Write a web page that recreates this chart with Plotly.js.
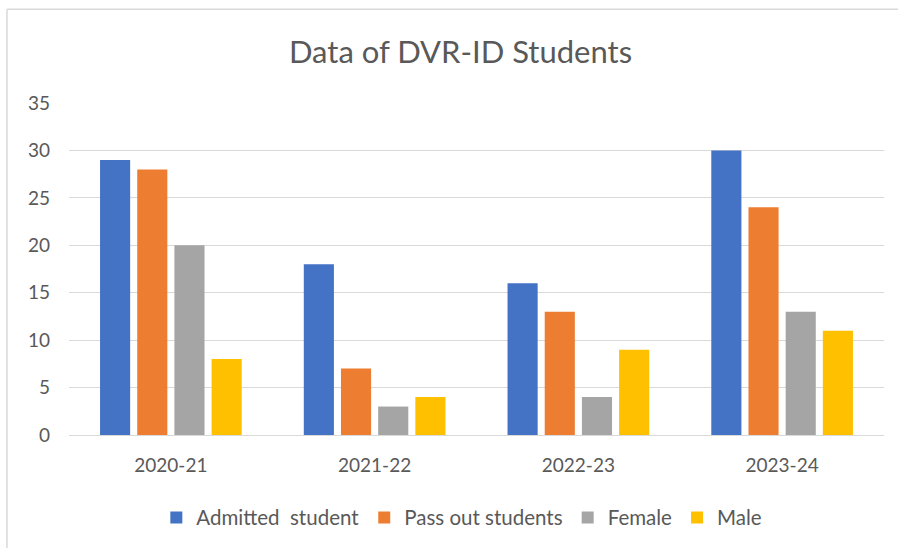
<!DOCTYPE html>
<html><head><meta charset="utf-8">
<script src="https://cdn.plot.ly/plotly-3.0.1.min.js"></script>
<style>html,body{margin:0;padding:0;background:#fff}#chart{width:898px;height:548px}</style>
</head><body><div id="chart"></div>
<script>
const categories = ["2020-21", "2021-22", "2022-23", "2023-24"];
const admitted = [29, 18, 16, 30];
const passOut = [28, 7, 13, 24];
const female = [20, 3, 4, 13];
const male = [8, 4, 9, 11];
const seriesNames = ["Admitted  student", "Pass out students", "Female", "Male"];
const colors = ["#4472C4", "#ED7D31", "#A5A5A5", "#FFC000"];
const yTicks = [0, 5, 10, 15, 20, 25, 30, 35];

const font = "Lato, 'Open Sans', 'Liberation Sans', sans-serif";
const series = [admitted, passOut, female, male];
const data = series.map((vals, i) => ({
  type: "bar", x: categories, y: vals, name: seriesNames[i].replace(/  /g, "&nbsp; "),
  marker: {color: colors[i]}, hoverinfo: "none"
}));

const layout = {
  width: 898, height: 548,
  margin: {l: 69, r: 14, t: 103, b: 112},
  paper_bgcolor: "#fff", plot_bgcolor: "#fff",
  font: {family: font, color: "#595959", size: 18},
  title: {text: "Data of DVR-ID Students", font: {family: font, size: 31, color: "#595959"}, x: 0.5128, xanchor: "center", y: 0.905, yanchor: "middle"},
  barmode: "group", bargap: 0.27, bargroupgap: 0.19,
  xaxis: {tickfont: {size: 19, color: "#595959"}, showline: true, linecolor: "#d9d9d9", linewidth: 1, ticks: "", showgrid: false, fixedrange: true, ticklabelstandoff: 13},
  yaxis: {range: [0, 35], tickvals: yTicks, ticktext: yTicks.map(String), tickfont: {size: 19, color: "#595959"},
          showgrid: true, gridcolor: "#d9d9d9", gridwidth: 1, zeroline: false, showline: false, ticks: "", ticklen: 0, fixedrange: true, ticklabelstandoff: 18},
  showlegend: true,
  legend: {orientation: "h", x: 0.482, xanchor: "center", y: -0.245, yanchor: "middle", font: {size: 20.5, color: "#595959"}, itemwidth: 30, traceorder: "normal"},
  shapes: [
    {type: "line", xref: "paper", yref: "paper", x0: -0.0761, x1: 1.2, y0: 1.2823, y1: 1.2823, line: {color: "#d9d9d9", width: 1.5}},
    {type: "line", xref: "paper", yref: "paper", x0: -0.0761, x1: -0.0761, y0: 1.2823, y1: -0.5, line: {color: "#d9d9d9", width: 1.5}}
  ]
};
Plotly.newPlot("chart", data, layout, {displayModeBar: false, staticPlot: true});
</script></body></html>
